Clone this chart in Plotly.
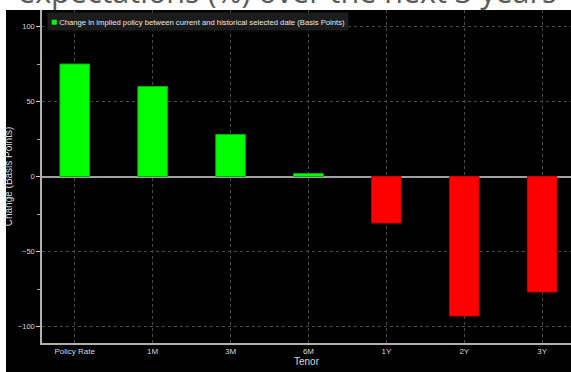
import plotly.graph_objects as go

tenors = ["Policy Rate", "1M", "3M", "6M", "1Y", "2Y", "3Y"]
change_bp = [75, 60, 28, 2, -31, -93, -77]
series_name = "Change in implied policy between current and historical selected date (Basis Points)"

fill_colors = ["#00ff00" if v >= 0 else "#ff0000" for v in change_bp]
edge_colors = ["#00b000" if v >= 0 else "#c00000" for v in change_bp]

W, H = 571, 372
L, R, T, B = 42, 0, 10, 29
pw, ph = W - L - R, H - T - B

fig = go.Figure()
fig.add_trace(go.Bar(
    x=tenors, y=change_bp, name=series_name,
    marker=dict(color=fill_colors, line=dict(color=edge_colors, width=1)),
    width=0.38, showlegend=False,
))

fig.update_layout(
    width=W, height=H,
    margin=dict(l=L, r=R, t=T, b=B, autoexpand=False),
    paper_bgcolor="white",
    plot_bgcolor="black",
    font=dict(family="Liberation Sans, Arial", color="#d0d0d0", size=8),
    showlegend=False,
    xaxis=dict(
        type="category", range=[-0.42, 6.37],
        showgrid=True, gridcolor="#4a4a4a", griddash="dot", gridwidth=1,
        showline=True, linecolor="#b0b0b0", linewidth=1.5,
        ticks="", tickfont=dict(size=8, color="#d8d8d8"),
        title=dict(text="Tenor", font=dict(size=10, color="#d8d8d8"), standoff=2),
        zeroline=False, fixedrange=True,
    ),
    yaxis=dict(
        range=[-111, 111],
        tickvals=[-100, -50, 0, 50, 100],
        showgrid=True, gridcolor="#4a4a4a", griddash="dot", gridwidth=1,
        zeroline=True, zerolinecolor="#a0a0a0", zerolinewidth=1.5,
        showline=True, linecolor="#b0b0b0", linewidth=1.5,
        ticks="outside", ticklen=4, tickcolor="#d0d0d0", tickwidth=1,
        minor=dict(tickvals=[-75, -25, 25, 75], ticks="outside", ticklen=3,
                   tickcolor="#a0a0a0", showgrid=False),
        tickfont=dict(size=7.5, color="#d8d8d8"),
        title=dict(text="Change (Basis Points)", font=dict(size=10, color="#d8d8d8"), standoff=3),
        fixedrange=True,
    ),
    shapes=[dict(
        type="rect", xref="paper", yref="paper", layer="below",
        x0=(6 - L) / pw, x1=1.0, y0=-B / ph, y1=1.0,
        fillcolor="black", line=dict(width=0),
    )],
    annotations=[
        dict(text="expectations (%) over the next 3 years", xref="paper", yref="paper",
             x=(287 - L) / pw, y=1.0, xanchor="center", yanchor="bottom", yshift=-4,
             showarrow=False, font=dict(family="Open Sans", size=30.5, color="#5a5a5a")),
        dict(text="<span style='color:#00ff00;font-size:10px'>■</span> " + series_name,
             xref="paper", yref="paper",
             x=(47 - L) / pw, y=1 - 2 / ph, xanchor="left", yanchor="top",
             showarrow=False, bgcolor="#1c1c1c", borderpad=3, align="left",
             font=dict(size=7.7, color="#e8e8e8")),
        dict(text="Copyright© 2023 Bloomberg Finance L.P.", xref="paper", yref="paper",
             x=(8 - L) / pw, y=-(B - 2) / ph, xanchor="left", yanchor="top", yshift=-1,
             showarrow=False, font=dict(size=7, color="#d0d0d0")),
        dict(text="28-Feb-2023 10:40:09", xref="paper", yref="paper",
             x=(494 - L) / pw, y=-(B - 2) / ph, xanchor="left", yanchor="top", yshift=-1,
             showarrow=False, font=dict(size=7, color="#d0d0d0")),
    ],
)

fig.write_html("out.html", config={"displayModeBar": False},
               post_script="document.body.style.margin='0';")
